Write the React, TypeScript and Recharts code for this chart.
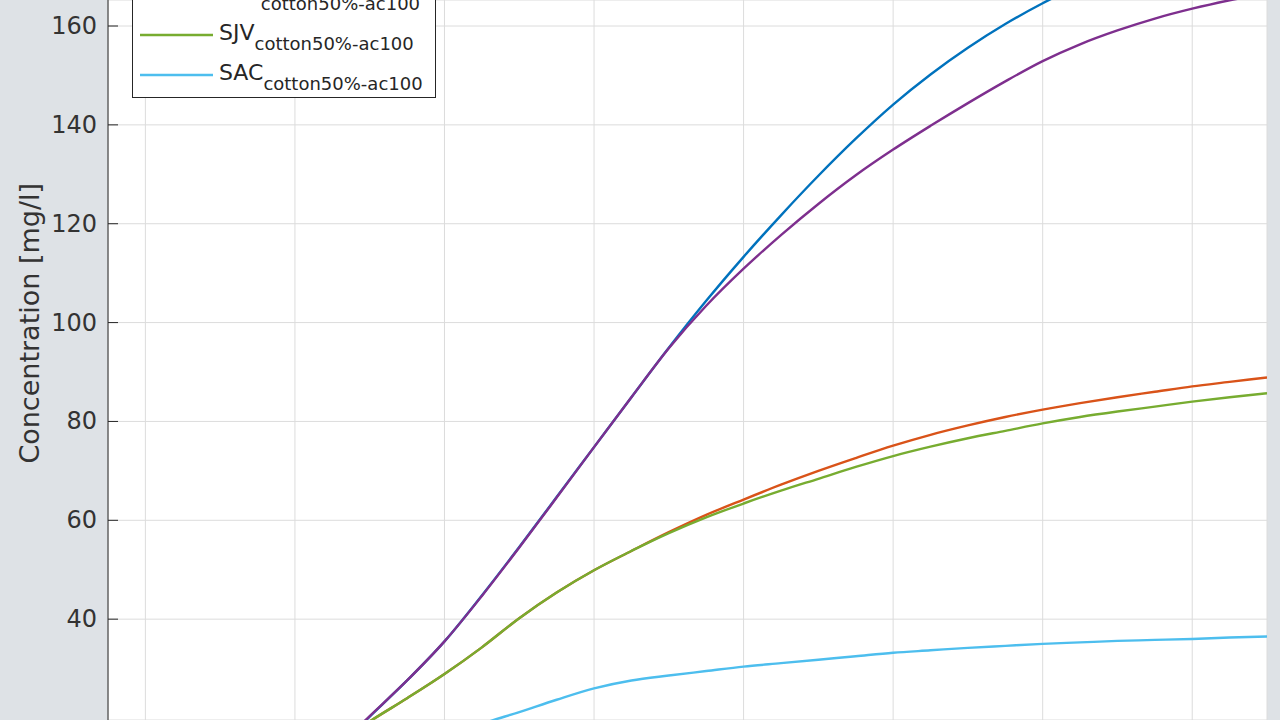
import React from 'react';
import { LineChart, Line, XAxis, YAxis, CartesianGrid, Legend, Label } from 'recharts';

const steps = [0, 1, 2, 3, 4, 5, 6, 7, 8, 9, 10, 11, 12, 13, 14, 15, 16, 17, 18, 19, 20, 21, 22, 23, 24, 25, 26, 27, 28, 29, 30, 31];

const nsjValues = [0.5, 1, 2, 3.5, 5.5, 8.5, 13, 20.3, 27.6, 35.5, 44.8, 54.6, 64.7, 74.8, 84.9, 94.9, 104.4, 113.3, 121.7, 129.7, 137.2, 144.1, 150.2, 155.6, 160.4, 164.6, 168.3, 171.6, 174.5, 177.0, 179.2, 181.1];
const ssjValues = [0.5, 1, 2, 3.5, 6, 9.5, 14, 19.3, 24.0, 28.9, 34.3, 40.2, 45.4, 49.9, 53.8, 57.6, 61.1, 64.2, 67.2, 70.0, 72.6, 75.1, 77.3, 79.2, 80.9, 82.4, 83.7, 84.9, 86.0, 87.1, 88.0, 88.9];
const tulValues = [0.5, 1, 2, 3.5, 5.5, 8.5, 13.2, 20.4, 27.6, 35.5, 44.7, 54.5, 64.6, 74.8, 84.9, 94.8, 103.4, 110.9, 117.7, 124.0, 129.8, 135.0, 139.8, 144.4, 148.8, 152.9, 156.3, 159.1, 161.5, 163.5, 165.2, 166.5];
const sjvValues = [0.5, 1, 2, 3.5, 6, 9.5, 14, 19.3, 24.0, 28.9, 34.3, 40.2, 45.4, 49.9, 53.8, 57.4, 60.6, 63.4, 66.0, 68.4, 70.8, 73.0, 74.9, 76.6, 78.1, 79.6, 80.9, 82.0, 83.0, 84.0, 84.9, 85.7];
const sacValues = [1, 1.5, 2, 3, 4, 5.5, 7.3, 9.5, 12.5, 15.8, 18.8, 21.2, 23.7, 26.0, 27.6, 28.6, 29.5, 30.4, 31.1, 31.8, 32.5, 33.2, 33.7, 34.2, 34.6, 35.0, 35.3, 35.6, 35.8, 36.0, 36.3, 36.5];

const scenario = 'cotton50%-ac100';
const yTicks = [20, 40, 60, 80, 100, 120, 140, 160];
const xTicks = [1, 5, 9, 13, 17, 21, 25, 29];

const seriesList = [
  { key: 'nsj', name: 'NSJ', color: '#0072BD', values: nsjValues },
  { key: 'ssj', name: 'SSJ', color: '#D95319', values: ssjValues },
  { key: 'tul', name: 'TUL', color: '#7E2F8E', values: tulValues },
  { key: 'sjv', name: 'SJV', color: '#77AC30', values: sjvValues },
  { key: 'sac', name: 'SAC', color: '#4DBEEE', values: sacValues },
];

const data = steps.map((x, i) => {
  const row: any = { x };
  seriesList.forEach(s => { row[s.key] = s.values[i]; });
  return row;
});

const FONT = '"DejaVu Sans", sans-serif';
const INK = '#262626';

function YTick(props: any) {
  const { x, y, payload } = props;
  return (
    <g>
      <line x1={x} x2={x + 10} y1={y} y2={y} stroke={INK} strokeWidth={1} />
      <text x={x - 11} y={y} dy={8} textAnchor="end" fontSize={24} fontFamily={FONT} fill="#333">
        {payload.value}
      </text>
    </g>
  );
}

function YTitle(props: any) {
  const vb = props.viewBox || { x: 0, y: 0, width: 108, height: 720 };
  const cx = vb.x + 39;
  const cy = vb.y + vb.height * 0.449;
  return (
    <text transform={`translate(${cx},${cy}) rotate(-90)`} textAnchor="middle" fontSize={27} fontFamily={FONT} fill="#333">
      Concentration [mg/l]
    </text>
  );
}

// legend sits partly above the visible area, like the cropped original
function LegendBox() {
  return (
    <svg width={305} height={206} style={{ display: 'block' }}>
      <rect x={0.5} y={0.5} width={303} height={204} fill="#fff" stroke={INK} />
      {seriesList.map((s, i) => {
        const cy = 22 + i * 40;
        return (
          <g key={s.key}>
            <line x1={8} x2={81} y1={cy} y2={cy} stroke={s.color} strokeWidth={2.4} />
            <text x={87} y={cy + 5} fontSize={22} fontFamily={FONT} fill={INK}>
              {s.name}
              <tspan fontSize={18} dy={10}>{scenario}</tspan>
            </text>
          </g>
        );
      })}
    </svg>
  );
}

export default function App() {
  return (
    <div style={{ position: 'absolute', left: 0, top: 0, width: 1280, height: 720, background: '#dee2e6', overflow: 'hidden' }}>
      <LineChart width={1280} height={720} data={data} margin={{ top: 0, right: 13, bottom: 0, left: 0 }}>
        <CartesianGrid fill="#fff" stroke="#dcdcdc" />
        <XAxis dataKey="x" type="number" domain={[0, 31]} ticks={xTicks} hide allowDataOverflow />
        <YAxis
          type="number"
          domain={[19.6, 165.26]}
          ticks={yTicks}
          allowDataOverflow
          width={108}
          tickSize={0}
          tickMargin={0}
          tickLine={false}
          tick={<YTick />}
          axisLine={{ stroke: INK }}
        >
          <Label content={<YTitle />} />
        </YAxis>
        <Legend
          layout="horizontal"
          verticalAlign="middle"
          align="center"
          content={<LegendBox />}
          wrapperStyle={{ left: 132, top: -107, width: 305, height: 206 }}
        />
        {seriesList.map(s => (
          <Line
            key={s.key}
            dataKey={s.key}
            name={s.name}
            type="monotone"
            stroke={s.color}
            strokeWidth={2.4}
            dot={false}
            activeDot={false}
            isAnimationActive={false}
          />
        ))}
      </LineChart>
    </div>
  );
}
